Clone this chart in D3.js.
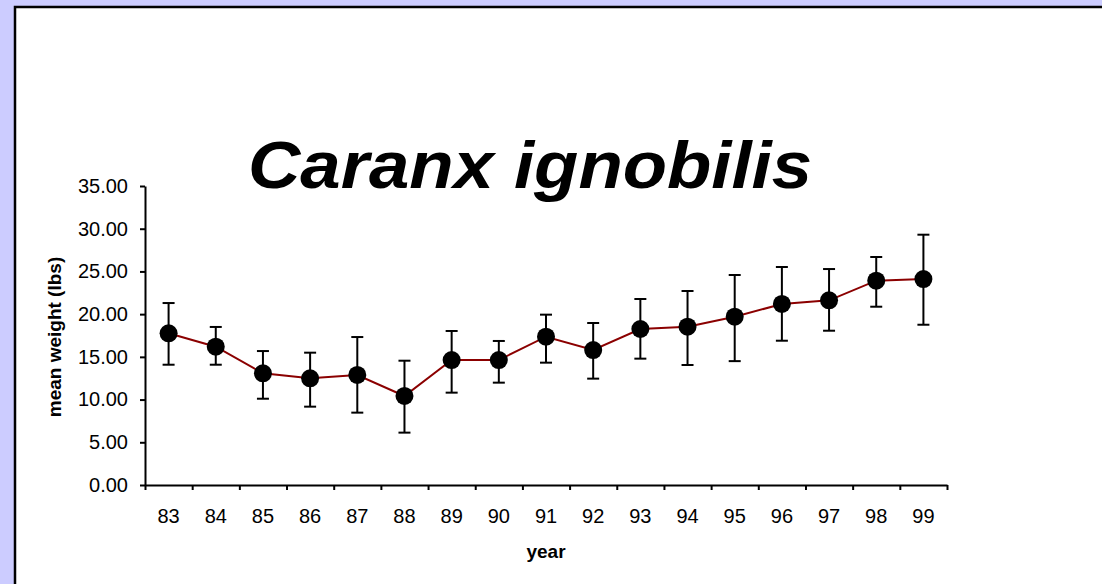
<!DOCTYPE html>
<html>
<head>
<meta charset="utf-8">
<script src="https://cdn.jsdelivr.net/npm/d3@7"></script>
<style>
  html, body { margin: 0; padding: 0; background: #ccccff; }
  svg { display: block; font-family: "Liberation Sans", Arial, sans-serif; }
</style>
</head>
<body>
<svg id="chart" width="1102" height="584"></svg>
<script>
// Mean weight per year with the ends of each error bar
var years = ["83", "84", "85", "86", "87", "88", "89", "90", "91",
             "92", "93", "94", "95", "96", "97", "98", "99"];
var meanWeight = [17.76, 16.19, 13.07, 12.49, 12.88, 10.42, 14.63, 14.63, 17.36,
                  15.80, 18.26, 18.53, 19.70, 21.19, 21.62, 23.92, 24.11];
var upperBar = [21.30, 18.50, 15.68, 15.49, 17.32, 14.55, 18.03, 16.86, 19.94,
                18.96, 21.77, 22.71, 24.58, 25.52, 25.28, 26.69, 29.30];
var lowerBar = [14.08, 14.08, 10.10, 9.17, 8.47, 6.13, 10.81, 11.98, 14.32,
                12.45, 14.79, 14.05, 14.50, 16.89, 18.06, 20.87, 18.76];
var yTicks = [0, 5, 10, 15, 20, 25, 30, 35];

var svg = d3.select("#chart");

// white panel with a heavy black edge on top and left
svg.append("rect")
  .attr("x", 15).attr("y", 7)
  .attr("width", 1102).attr("height", 600)
  .attr("fill", "#fff")
  .attr("stroke", "#000")
  .attr("stroke-width", 2.5);

var plot = { left: 145, right: 947, top: 186, bottom: 485 };

var x = d3.scaleBand()
  .domain(years)
  .range([plot.left, plot.right]);

// boundaries between categories, for the tick marks
var xEdge = d3.scaleLinear()
  .domain([0, years.length])
  .range([plot.left, plot.right]);

var y = d3.scaleLinear()
  .domain([0, 35])
  .range([plot.bottom, plot.top]);

// title (the original is a bit stretched sideways)
svg.append("text")
  .attr("x", 248)
  .attr("y", 188)
  .attr("textLength", 564)
  .attr("lengthAdjust", "spacingAndGlyphs")
  .style("font-size", "66px")
  .style("font-weight", "bold")
  .style("font-style", "italic")
  .text("Caranx ignobilis");

// y axis
var yAxis = svg.append("g")
  .attr("transform", "translate(" + plot.left + ",0)")
  .call(d3.axisLeft(y)
    .tickValues(yTicks)
    .tickFormat(d3.format(".2f"))
    .tickSize(5)
    .tickSizeOuter(0)
    .tickPadding(12));

// x axis: ticks at the edges, labels at the centres
var xAxisTicks = svg.append("g")
  .attr("transform", "translate(0," + plot.bottom + ")")
  .call(d3.axisBottom(xEdge)
    .tickValues(d3.range(years.length + 1))
    .tickFormat("")
    .tickSize(5)
    .tickSizeOuter(0));

var xAxisLabels = svg.append("g")
  .attr("transform", "translate(0," + plot.bottom + ")")
  .call(d3.axisBottom(x)
    .tickSize(0)
    .tickPadding(24));
xAxisLabels.select(".domain").remove();

[yAxis, xAxisTicks].forEach(g => {
  g.selectAll(".domain, line")
    .attr("stroke", "#000")
    .attr("stroke-width", 2);
});
[yAxis, xAxisLabels].forEach(g => {
  g.selectAll("text")
    .attr("fill", "#000")
    .style("font-size", "20px")
    .style("font-family", "'Liberation Sans', Arial, sans-serif");
});

// axis titles
svg.append("text")
  .attr("x", 546)
  .attr("y", 558)
  .attr("text-anchor", "middle")
  .style("font-size", "19px")
  .style("font-weight", "bold")
  .text("year");

svg.append("text")
  .attr("transform", "translate(61,337) rotate(-90)")
  .attr("text-anchor", "middle")
  .style("font-size", "19px")
  .style("font-weight", "bold")
  .text("mean weight (lbs)");

var cx = d => x(d) + x.bandwidth() / 2;
var capHalf = 6;

// error bars
var bars = svg.append("g")
  .attr("stroke", "#000")
  .attr("stroke-width", 2)
  .selectAll("g")
  .data(years)
  .enter()
    .append("g");

bars.append("line")
  .attr("x1", d => cx(d)).attr("x2", d => cx(d))
  .attr("y1", (d, i) => y(upperBar[i]))
  .attr("y2", (d, i) => y(lowerBar[i]));
bars.append("line")
  .attr("x1", d => cx(d) - capHalf).attr("x2", d => cx(d) + capHalf)
  .attr("y1", (d, i) => y(upperBar[i]))
  .attr("y2", (d, i) => y(upperBar[i]));
bars.append("line")
  .attr("x1", d => cx(d) - capHalf).attr("x2", d => cx(d) + capHalf)
  .attr("y1", (d, i) => y(lowerBar[i]))
  .attr("y2", (d, i) => y(lowerBar[i]));

// connecting line
var line = d3.line()
  .x(d => cx(d))
  .y((d, i) => y(meanWeight[i]));

svg.append("path")
  .datum(years)
  .attr("fill", "none")
  .attr("stroke", "#8b0000")
  .attr("stroke-width", 2)
  .attr("d", line);

// markers
svg.append("g")
  .selectAll("circle")
  .data(years)
  .enter()
    .append("circle")
    .attr("cx", d => cx(d))
    .attr("cy", (d, i) => y(meanWeight[i]))
    .attr("r", 9)
    .attr("fill", "#000");
</script>
</body>
</html>
